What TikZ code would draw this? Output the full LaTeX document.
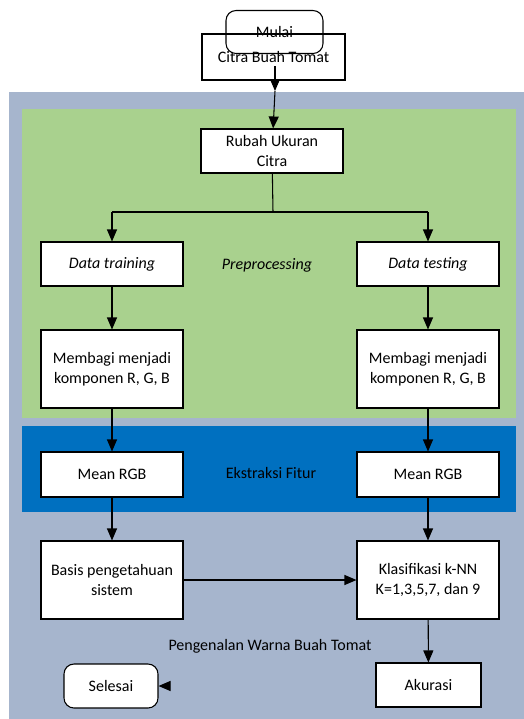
\documentclass[tikz,border=0pt]{standalone}
\usepackage{fontspec}
\setmainfont{Carlito}
\usetikzlibrary{arrows.meta}

\definecolor{outerbg}{HTML}{A6B5CD}
\definecolor{prebg}{HTML}{A9D18E}
\definecolor{fiturbg}{HTML}{0070C0}

\tikzstyle{proses} = [rectangle, draw, fill=white, line width=0.8pt,
    align=center, minimum width=106.5pt, minimum height=33pt, inner sep=0pt]
\tikzstyle{prosesb} = [proses, minimum height=58.5pt]
\tikzstyle{terminal} = [rectangle, rounded corners=7.5pt, draw, line width=0.8pt,
    align=center, inner sep=0pt]
\tikzstyle{label} = [align=center]
\tikzstyle{panah} = [-{Triangle[length=9pt,width=7.5pt]}, line width=0.8pt]

\begin{document}
\begin{tikzpicture}[x=0.75pt,y=-0.75pt,font=\fontsize{12}{15}\selectfont]
	\useasboundingbox (0,0) rectangle (524,719);
	% latar
	\fill [outerbg] (9,92) rectangle (524,719);
	\fill [prebg] (22,109) rectangle (516,418);
	\fill [fiturbg] (22,426) rectangle (516,512);
	%
	\node [proses, minimum width=107.25pt, minimum height=34.5pt] (citra) at (273.5,57) {\raisebox{-4pt}{Citra Buah Tomat}};
	\node [terminal, minimum width=72.75pt, minimum height=32.25pt] (mulai) at (274.5,32) {Mulai};
	\coordinate (ca) at (275,66);
	\coordinate (cb) at (275,91);
	%
	\node [proses] (rubah) at (272,151) {Rubah Ukuran\\Citra};
	\coordinate (cabang) at (273,212);
	\coordinate (kiri) at (112,212);
	\coordinate (kanan) at (428,212);
	%
	\node [proses] (train) at (112,264) {\textit{Data training}};
	\node [proses] (test) at (428,264) {\textit{Data testing}};
	\node [label] (pre) at (267,265) {\textit{Preprocessing}};
	%
	\node [prosesb] (bagia) at (112,369) {Membagi menjadi\\komponen R, G, B};
	\node [prosesb] (bagib) at (428,369) {Membagi menjadi\\komponen R, G, B};
	%
	\node [proses, minimum height=33.75pt] (meana) at (112,474.5) {Mean RGB};
	\node [proses, minimum height=33.75pt] (meanb) at (428,474.5) {Mean RGB};
	\node [label] (fitur) at (271,473) {Ekstraksi Fitur};
	%
	\node [prosesb] (basis) at (112,580) {Basis pengetahuan\\sistem};
	\node [prosesb] (knn) at (428,580) {Klasifikasi k-NN\\K=1,3,5,7, dan 9};
	\node [label] (kenal) at (270,646) {Pengenalan Warna Buah Tomat};
	%
	\node [proses, minimum width=78.75pt] (akurasi) at (428.5,685) {Akurasi};
	\node [terminal, minimum width=70.5pt, minimum height=33pt, fill=white] (selesai) at (111,686) {Selesai};
	\coordinate (cs) at (168,686);
	%
	\draw [panah] (ca) -- (cb);
	\draw [panah] (cb) -- (rubah);
	\draw [line width=0.8pt] (rubah) -- (cabang);
	\draw [line width=0.8pt] (kiri) -- (kanan);
	\draw [panah] (kiri) -- (train);
	\draw [panah] (kanan) -- (test);
	\draw [panah] (train) -- (bagia);
	\draw [panah] (test) -- (bagib);
	\draw [panah] (bagia) -- (meana);
	\draw [panah] (bagib) -- (meanb);
	\draw [panah] (meana) -- (basis);
	\draw [panah] (meanb) -- (knn);
	\draw [panah] (basis) -- (knn);
	\draw [panah] (knn) -- (akurasi);
	\draw [panah] (cs) -- (selesai);
\end{tikzpicture}
\end{document}
